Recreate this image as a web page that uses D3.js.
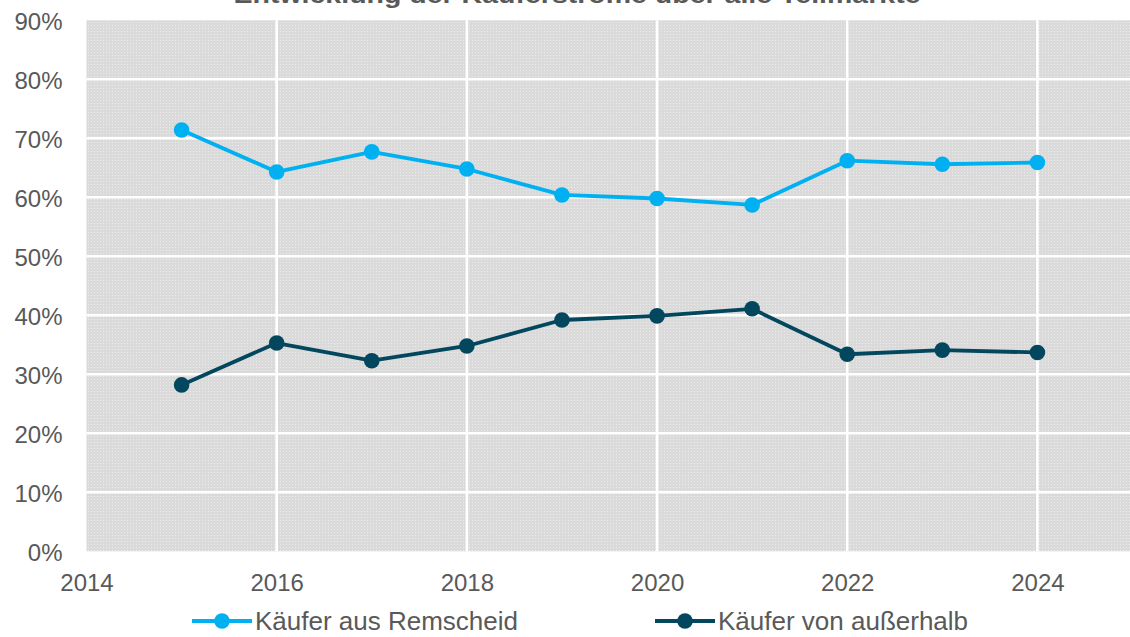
<!DOCTYPE html>
<html>
<head>
<meta charset="utf-8">
<script src="https://cdn.jsdelivr.net/npm/d3@7"></script>
<style>
  body { margin: 0; background: #fff; }
  svg { display: block; font-family: "Liberation Sans", Arial, sans-serif; }
</style>
</head>
<body>
<div id="chart"></div>
<script>
const TITLE = "Entwicklung der Käuferströme über alle Teilmärkte";
const years = [2015, 2016, 2017, 2018, 2019, 2020, 2021, 2022, 2023, 2024];
const remscheid = [71.4, 64.3, 67.7, 64.8, 60.4, 59.8, 58.7, 66.2, 65.6, 65.9];
const ausserhalb = [28.2, 35.3, 32.3, 34.8, 39.2, 39.9, 41.1, 33.4, 34.1, 33.7];
const xTicks = [2014, 2016, 2018, 2020, 2022, 2024];
const yTicks = [0, 10, 20, 30, 40, 50, 60, 70, 80, 90];
const seriesNames = ["Käufer aus Remscheid", "Käufer von außerhalb"];
const seriesColors = ["#00b0f0", "#03475f"];

const WIDTH = 1130, HEIGHT = 637;
const PLOT = { LEFT: 86.5, RIGHT: 1132.5, TOP: 20.3, BOTTOM: 551.3 };

const svg = d3.select("#chart").append("svg")
    .attr("width", WIDTH)
    .attr("height", HEIGHT);

const x = d3.scaleLinear().domain([2014, 2025]).range([PLOT.LEFT, PLOT.RIGHT]);
const y = d3.scaleLinear().domain([0, 90]).range([PLOT.BOTTOM, PLOT.TOP]);

// dotted grey texture of the plot area
const pat = svg.append("defs").append("pattern")
    .attr("id", "tex")
    .attr("width", 3).attr("height", 3)
    .attr("patternUnits", "userSpaceOnUse");
pat.append("rect").attr("width", 3).attr("height", 3).attr("fill", "#dadada");
pat.append("rect").attr("x", 1).attr("y", 1).attr("width", 1).attr("height", 1).attr("fill", "#ebebeb");

svg.append("rect")
    .attr("x", PLOT.LEFT)
    .attr("y", PLOT.TOP)
    .attr("width", PLOT.RIGHT - PLOT.LEFT)
    .attr("height", PLOT.BOTTOM - PLOT.TOP)
    .attr("fill", "url(#tex)");

// grid
svg.append("g").selectAll("line")
    .data(yTicks.filter(d => d > 0 && d < 90))
    .join("line")
    .attr("x1", PLOT.LEFT).attr("x2", PLOT.RIGHT)
    .attr("y1", d => y(d)).attr("y2", d => y(d))
    .attr("stroke", "#fff").attr("stroke-width", 2.6);

svg.append("g").selectAll("line")
    .data(xTicks.filter(d => d > 2014))
    .join("line")
    .attr("x1", d => x(d)).attr("x2", d => x(d))
    .attr("y1", PLOT.TOP).attr("y2", PLOT.BOTTOM)
    .attr("stroke", "#fff").attr("stroke-width", 2.6);

// axes
const yAxis = svg.append("g")
    .attr("transform", `translate(${PLOT.LEFT - 24},0)`)
    .call(d3.axisLeft(y).tickValues(yTicks).tickSize(0).tickPadding(0).tickFormat(d => d + "%"));
yAxis.select(".domain").remove();
yAxis.selectAll("text")
    .attr("font-size", 24)
    .attr("font-family", "Liberation Sans, Arial, sans-serif")
    .attr("fill", "#595959")
    .attr("dy", "0.4em");

const xAxis = svg.append("g")
    .attr("transform", `translate(0,${PLOT.BOTTOM})`)
    .call(d3.axisBottom(x).tickValues(xTicks).tickSize(0).tickPadding(0).tickFormat(d3.format("d")));
xAxis.select(".domain").remove();
xAxis.selectAll("text")
    .attr("font-size", 24)
    .attr("font-family", "Liberation Sans, Arial, sans-serif")
    .attr("fill", "#595959")
    .attr("dy", null)
    .attr("y", 40);

// series
const line = d3.line().x(d => x(d[0])).y(d => y(d[1]));
[remscheid, ausserhalb].forEach((vals, i) => {
    const pts = years.map((yr, j) => [yr, vals[j]]);
    svg.append("path")
        .datum(pts)
        .attr("d", line)
        .attr("fill", "none")
        .attr("stroke", seriesColors[i])
        .attr("stroke-width", 3.8)
        .attr("stroke-linejoin", "round");
    svg.append("g").selectAll("circle")
        .data(pts)
        .join("circle")
        .attr("cx", d => x(d[0]))
        .attr("cy", d => y(d[1]))
        .attr("r", 7.8)
        .attr("fill", seriesColors[i]);
});

// title (cut at top edge)
svg.append("text")
    .attr("x", 577)
    .attr("y", 3)
    .attr("text-anchor", "middle")
    .attr("font-size", 24)
    .attr("font-weight", "bold")
    .attr("fill", "#595959")
    .attr("textLength", 687)
    .attr("lengthAdjust", "spacingAndGlyphs")
    .text(TITLE);

// legend
const legendX = [192, 655];
const legend = svg.append("g").selectAll("g")
    .data(seriesNames)
    .join("g")
    .attr("transform", (d, i) => `translate(${legendX[i]},621)`);
legend.append("line")
    .attr("x1", 0).attr("x2", 60)
    .attr("stroke", (d, i) => seriesColors[i])
    .attr("stroke-width", 3.8);
legend.append("circle")
    .attr("cx", 30).attr("r", 7.8)
    .attr("fill", (d, i) => seriesColors[i]);
legend.append("text")
    .attr("x", 63)
    .attr("dy", "0.36em")
    .attr("font-size", 26)
    .attr("fill", "#595959")
    .text(d => d);
</script>
</body>
</html>
